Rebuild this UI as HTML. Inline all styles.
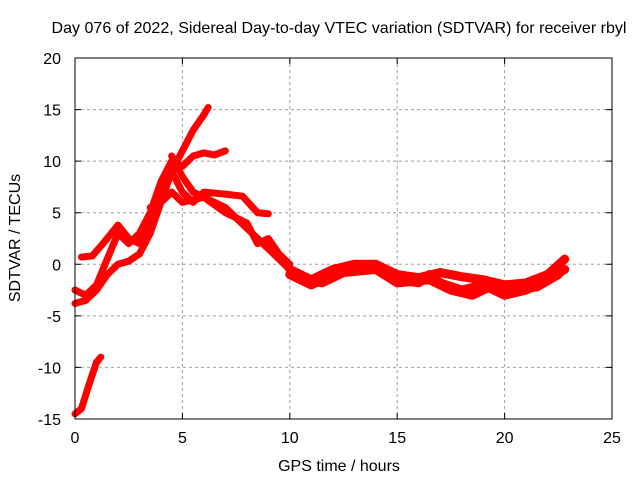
<!DOCTYPE html>
<html><head><meta charset="utf-8"><style>
body{margin:0;background:#fff}
svg{display:block;font-family:"Liberation Sans",sans-serif}
</style></head><body>
<svg id="chart" width="640" height="480">
<text x="339" y="33" font-size="16" text-anchor="middle" textLength="575" lengthAdjust="spacingAndGlyphs">Day 076 of 2022, Sidereal Day-to-day VTEC variation (SDTVAR) for receiver rbyl</text>
<g id="grid"></g>
<g id="ticks"></g>
<g id="series"></g>
<rect x="75" y="58" width="537" height="361" fill="none" stroke="#000" stroke-width="1"/>
<text x="339" y="471" font-size="16" text-anchor="middle">GPS time / hours</text>
<text x="20" y="238" font-size="16" text-anchor="middle" transform="rotate(-90 20 238)">SDTVAR / TECUs</text>
</svg>
<script>
const xTicks=[0,5,10,15,20,25];
const yTicks=[-15,-10,-5,0,5,10,15,20];
const seriesA=[[0,-3.8],[0.5,-3.5],[1,-2.5],[1.5,-1],[2,0],[2.5,0.3],[3,1],[3.5,3],[4,6],[4.5,9],[5,11],[5.5,13],[6,14.5],[6.2,15.2]];
const seriesB=[[0,-2.5],[0.5,-3],[1,-2],[1.5,0.5],[2,3],[2.5,2],[3,3],[3.5,5],[4,8],[4.5,10],[5,9.5],[5.5,10.5],[6,10.8],[6.5,10.6],[7,11]];
const seriesC=[[0.3,0.7],[0.8,0.8],[1.3,2],[2,3.8],[2.5,2.5],[3,2],[3.5,4],[4,7],[4.5,9],[5,7],[5.5,6],[6,7],[7,6.8],[7.8,6.6],[8.5,5],[9,4.9]];
const seriesD=[[4.5,10.5],[5,8.5],[5.5,7],[6,6.5],[7,5.5],[8,3.5],[9,1.5],[10,-0.5],[10.5,-1.5]];
const seriesE=[[3.5,5.5],[4,6],[4.5,7],[5,6],[6,6.5],[7,5],[8,4],[8.5,2],[9,2.5],[9.5,1],[10,0]];
const seriesF=[[0,-14.5],[0.3,-14],[0.6,-12],[1,-9.5],[1.2,-9]];
const seriesG1=[[10,-0.5],[11,-1.5],[12,-0.5],[13,0],[14,0],[15,-1],[16,-1.3],[17,-0.8],[18,-1.2],[19,-1.5],[20,-2],[21,-1.8],[22,-1],[22.8,0.5]];
const seriesG2=[[10,-1],[11,-2],[12,-1],[13,-0.5],[14,-0.2],[15,-1.5],[16,-1.8],[16.5,-1],[17,-1.8],[18,-2.5],[19,-2],[20,-3],[21,-2.5],[22,-1.5],[22.8,-0.5]];
const seriesG3=[[10.5,-1.5],[11.5,-1.8],[12.5,-0.8],[14,-0.5],[15,-1.8],[16.5,-1.5],[17.5,-2.5],[18.5,-3],[19.5,-2],[20.5,-2.5],[21.5,-2.2],[22.5,-1]];
const allSeries=[seriesA,seriesB,seriesC,seriesD,seriesE,seriesF,seriesG1,seriesG2,seriesG3];
const NS="http://www.w3.org/2000/svg";
const X0=75,X1=612,Y0=419,Y1=58;
function sx(h){return X0+(h-0)/(25-0)*(X1-X0);}
function sy(v){return Y0-(v+15)/(20+15)*(Y0-Y1);}
const grid=document.getElementById('grid'),ticks=document.getElementById('ticks'),ser=document.getElementById('series');
function mk(tag,at,parent){const e=document.createElementNS(NS,tag);for(const k in at)e.setAttribute(k,at[k]);parent.appendChild(e);return e;}
xTicks.forEach(t=>{
  const x=sx(t);
  if(t>0&&t<25){const g=mk('line',{x1:x,x2:x,y1:Y1,y2:Y0,stroke:'#a0a0a0','stroke-dasharray':'3,3'},grid);
  
  }
  const l=mk('text',{x:x,y:443,'font-size':16,'text-anchor':'middle'},ticks);l.textContent=t;
  
  
  const tk=mk('path',{d:`M${x} ${Y0}v-6M${x} ${Y1}v6`,stroke:'#000'},ticks);
  
  
});
yTicks.forEach(t=>{
  const y=sy(t);
  if(t>-15&&t<20){const g=mk('line',{x1:X0,x2:X1,y1:y,y2:y,stroke:'#a0a0a0','stroke-dasharray':'3,3'},grid);
  
  }
  const l=mk('text',{x:61,y:y+6,'font-size':16,'text-anchor':'end'},ticks);l.textContent=t;
  
  
  const tk=mk('path',{d:`M${X0} ${y}h6M${X1} ${y}h-6`,stroke:'#000'},ticks);
  
  
});
allSeries.forEach((s,i)=>{
  const p=mk('polyline',{points:s.map(d=>sx(d[0])+','+sy(d[1])).join(' '),fill:'none',stroke:'#ff0000','stroke-width':i>=6?9:7,'stroke-linejoin':'round','stroke-linecap':'round'},ser);
  
  
});
</script>
</body></html>
